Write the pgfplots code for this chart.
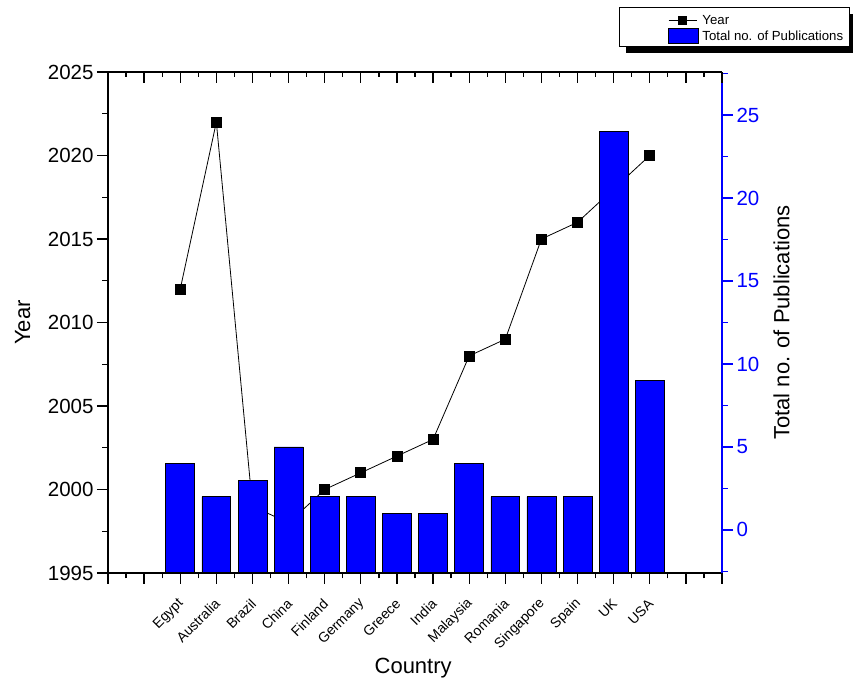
\documentclass[border=0pt]{standalone}
\usepackage{fontspec}
\setmainfont{Liberation Sans}
\usepackage{pgfplots}
\pgfplotsset{compat=1.18}
\usepackage{pgfplotstable}

\definecolor{pubblue}{RGB}{0,0,255}

\pgfplotstableread{
x year n
2 2012 4
3 2022 2
4 1999 3
5 1998 5
6 2000 2
7 2001 2
8 2002 1
9 2003 1
10 2008 4
11 2009 2
12 2015 2
13 2016 2
14 2018 24
15 2020 9
}\datatable

\pgfplotsset{
  common/.style={
    at={(0pt,0pt)}, anchor=south west, scale only axis,
    width=614pt, height=501pt,
    xmin=0, xmax=17,
    axis line style={-, line width=1.6pt},
    major tick length=11pt, minor tick length=5.5pt,
    every tick/.style={line width=1.3pt, black},
    /pgf/number format/assume math mode=true,
  },
  lineleg/.style={legend image code/.code={\draw[mark repeat=2,mark phase=2,##1] plot coordinates {(0pt,0pt)(14pt,0pt)(28pt,0pt)};}},
  barleg/.style={legend image code/.code={\draw[##1] (0pt,-7.5pt) rectangle (30pt,7.5pt);}},
}

\begin{document}
\begin{tikzpicture}
\useasboundingbox (-108pt,-110pt) rectangle (745pt,573pt);
% legend frame with shadow
\fill[black] (518pt,520pt) rectangle (752pt,558.7pt);
\draw[black, line width=0.8pt, fill=white] (511pt,527pt) rectangle (741pt,565.7pt);

% Year axis (left)
\begin{axis}[common,
  ymin=1995, ymax=2025,
  axis x line*=bottom, axis y line*=left, tick align=outside,
  xtick={0,...,17}, minor x tick num=1,
  xticklabels={,,Egypt,Australia,Brazil,China,Finland,Germany,Greece,India,Malaysia,Romania,Singapore,Spain,UK,USA,,},
  xticklabel style={xshift=3.5pt, yshift=-15pt, rotate=45, anchor=east, font=\fontsize{14}{14}\selectfont},
  ytick={1995,2000,...,2025}, minor y tick num=1,
  scaled y ticks=false,
  yticklabel style={font=\fontsize{20.5}{20.5}\selectfont, /pgf/number format/1000 sep={}},
  xlabel={Country}, ylabel={Year},
  xlabel style={font=\fontsize{22}{22}\selectfont, at={(axis description cs:0.497,-0.19)}, anchor=center},
  ylabel style={font=\fontsize{22}{22}\selectfont, at={(axis description cs:-0.139,0.5)}, anchor=center},
]
\addplot[black, line width=0.8pt, mark=square*, mark size=5pt, mark options={solid}] table[x=x, y=year]{\datatable};
\end{axis}

% Publications axis (right), bars on top of the line
\begin{axis}[common,
  ymin=0, ymax=30.2,
  axis x line*=bottom, axis y line*=right, tick align=outside, axis on top,
  xtick=\empty,
  ytick={2.6,7.6,12.6,17.6,22.6,27.6}, yticklabels={0,5,10,15,20,25},
  minor ytick={0.1,5.1,10.1,15.1,20.1,25.1,30.1},
  y axis line style={pubblue},
  every tick/.style={line width=1.3pt, pubblue},
  yticklabel style={text=pubblue, font=\fontsize{20.5}{20.5}\selectfont},
  ylabel={Total no. of Publications},
  ylabel style={font=\fontsize{22}{22}\selectfont, at={(axis description cs:1.097,0.5)}, anchor=center},
  legend style={at={(axis description cs:0.9121,1.1158)}, anchor=north west, draw=none, fill=none,
    inner xsep=0pt, inner ysep=0pt, font=\fontsize{13.2}{13.2}\selectfont,
    nodes={inner sep=1pt, text depth=0.15em}, cells={anchor=west}, row sep=1.5pt, column sep=2.5pt},
]
\addlegendimage{black, line width=0.8pt, mark=square*, mark size=3.8pt, lineleg}
\addlegendentry{Year}
\addplot[ybar, bar width=0.8, bar shift=0pt, fill=pubblue, draw=black, line width=0.7pt, barleg]
  table[x=x, y expr=\thisrow{n}+2.6]{\datatable};
\addlegendentry{Total no. of Publications}
\end{axis}

% top axis line with inward ticks
\begin{axis}[common,
  ymin=0, ymax=1,
  axis x line*=top, axis y line=none, tick align=inside,
  xtick={0,...,17}, minor x tick num=1, xticklabels={},
]
\end{axis}
\end{tikzpicture}
\end{document}
